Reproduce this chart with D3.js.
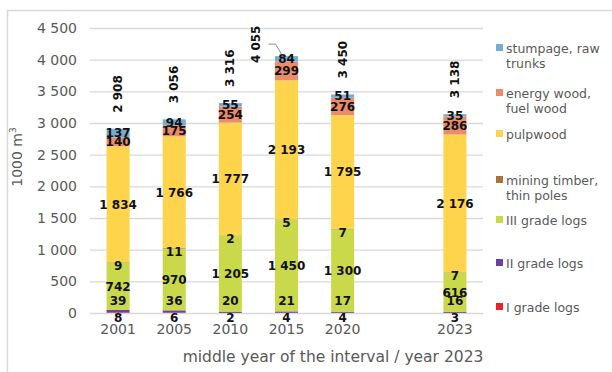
<!DOCTYPE html>
<html>
<head>
<meta charset="utf-8">
<script src="https://cdn.jsdelivr.net/npm/d3@7"></script>
<style>
  body { margin: 0; background: #fff; }
  text { font-family: "DejaVu Sans", sans-serif; }
</style>
</head>
<body>
<div id="chart"></div>
<script>
// categories ("" is the empty slot before 2023)
const years = ["2001", "2005", "2010", "2015", "2020", "", "2023"];

// series values, bottom to top
const gradeI = [8, 6, 2, 4, 4, null, 3];
const gradeII = [39, 36, 20, 21, 17, null, 16];
const gradeIII = [742, 970, 1205, 1450, 1300, null, 616];
const mining = [9, 11, 2, 5, 7, null, 7];
const pulpwood = [1834, 1766, 1777, 2193, 1795, null, 2176];
const energy = [140, 175, 254, 299, 276, null, 286];
const stumpage = [137, 94, 55, 84, 51, null, 35];
const totals = [2908, 3056, 3316, 4055, 3450, null, 3138];

const yTicks = [0, 500, 1000, 1500, 2000, 2500, 3000, 3500, 4000, 4500];

const series = [
    { key: "I", name: ["I grade logs"], values: gradeI, color: "#e8222b" },
    { key: "II", name: ["II grade logs"], values: gradeII, color: "#6b3fa3" },
    { key: "III", name: ["III grade logs"], values: gradeIII, color: "#c9d94a" },
    { key: "mining", name: ["mining timber,", "thin poles"], values: mining, color: "#a5733b" },
    { key: "pulp", name: ["pulpwood"], values: pulpwood, color: "#ffd44d" },
    { key: "energy", name: ["energy wood,", "fuel wood"], values: energy, color: "#e98c6c" },
    { key: "stump", name: ["stumpage, raw", "trunks"], values: stumpage, color: "#75add0" }
];

const fmt = v => d3.format(",")(v).replace(/,/g, " ");

const W = 612, H = 372;
const margin = { top: 28, right: 129, bottom: 59, left: 90 };
const width = W - margin.left - margin.right;
const height = H - margin.top - margin.bottom;

const root = d3.select("#chart").append("svg")
    .attr("width", W)
    .attr("height", H);

// outer frame
root.append("rect")
    .attr("x", 7.5).attr("y", 10.5)
    .attr("width", 640).attr("height", 400)
    .attr("fill", "none")
    .attr("stroke", "#d9d9d9")
    .attr("stroke-width", 1.5);

const svg = root.append("g")
    .attr("transform", `translate(${margin.left},${margin.top})`);

const x = d3.scaleBand()
    .domain(years.map((d, i) => i))
    .range([0, width])
    .paddingInner(0.59)
    .paddingOuter(0.295);

const y = d3.scaleLinear()
    .domain([0, 4500])
    .range([height, 0]);

// gridlines + y axis labels
svg.append("g")
    .selectAll("line")
    .data(yTicks)
    .join("line")
    .attr("x1", 0).attr("x2", width)
    .attr("y1", d => y(d) + 0.5).attr("y2", d => y(d) + 0.5)
    .attr("stroke", "#d9d9d9")
    .attr("stroke-width", 1.3);

svg.append("g")
    .selectAll("text")
    .data(yTicks)
    .join("text")
    .attr("x", -13)
    .attr("y", d => y(d))
    .attr("dy", "0.36em")
    .attr("text-anchor", "end")
    .attr("font-size", 14)
    .attr("fill", "#595959")
    .text(d => fmt(d));

// stacked bars
const rows = years.map((yr, i) => {
    const r = { i };
    series.forEach(s => r[s.key] = s.values[i] || 0);
    return r;
}).filter(r => years[r.i] !== "");

const stack = d3.stack().keys(series.map(s => s.key))(rows);

const barsG = svg.append("g");
const labelsG = svg.append("g");

stack.forEach((layer, li) => {
    const s = series[li];
    barsG.append("g")
        .selectAll("rect")
        .data(layer)
        .join("rect")
        .attr("x", d => x(d.data.i))
        .attr("width", x.bandwidth())
        .attr("y", d => y(d[1]))
        .attr("height", d => Math.max(y(d[0]) - y(d[1]), 0))
        .attr("fill", s.color);

    // data labels (drawn above all bars)
    labelsG.append("g")
        .selectAll("text")
        .data(layer)
        .join("text")
        .attr("x", d => x(d.data.i) + x.bandwidth() / 2)
        .attr("y", d => {
            if (s.key === "I") return y(0) + 5;
            if (s.key === "II") return y(0) - 12;
            if (s.key === "mining") return y(d[0]) + 3;
            return y((d[0] + d[1]) / 2);
        })
        .attr("dy", "0.36em")
        .attr("text-anchor", "middle")
        .attr("font-size", 12)
        .attr("font-weight", "bold")
        .attr("fill", "#111")
        .text(d => fmt(d.data[s.key]));
});

// totals, rotated
const topSum = rows.map(r => ({ i: r.i, total: totals[r.i], top: d3.sum(series, s => r[s.key]) }));
topSum.forEach(d => {
    const cx = x(d.i) + x.bandwidth() / 2;
    let lx = cx + 4, ly = y(d.top) - 16;
    const g = svg.append("g");
    if (d.total > 4000) {
        // no room above the bar: label sits left with a leader line
        lx = cx - 27;
        ly = y(d.top) + 7;
        g.append("path")
            .attr("d", `M${cx - 18},${y(d.top) - 12}H${cx - 11}L${cx - 5},${y(d.top) - 2}`)
            .attr("fill", "none")
            .attr("stroke", "#8c8c8c")
            .attr("stroke-width", 1);
    }
    g.append("text")
        .attr("transform", `translate(${lx},${ly}) rotate(-90)`)
        .attr("font-size", 12)
        .attr("font-weight", "bold")
        .attr("fill", "#111")
        .text(fmt(d.total));
});

// x axis labels
svg.append("g")
    .selectAll("text")
    .data(years.map((d, i) => ({ d, i })).filter(o => o.d !== ""))
    .join("text")
    .attr("x", o => x(o.i) + x.bandwidth() / 2)
    .attr("y", height + 21)
    .attr("text-anchor", "middle")
    .attr("font-size", 14)
    .attr("fill", "#595959")
    .text(o => o.d);

// axis titles
root.append("text")
    .attr("x", 333)
    .attr("y", 362)
    .attr("text-anchor", "middle")
    .attr("font-size", 15.5)
    .attr("fill", "#595959")
    .text("middle year of the interval / year 2023");

root.append("text")
    .attr("transform", "translate(22,157) rotate(-90)")
    .attr("text-anchor", "middle")
    .attr("font-size", 14)
    .attr("fill", "#595959")
    .html("1000 m<tspan dy='-6' font-size='9'>3</tspan>");

// legend
const legendY = [48, 93, 134, 180, 220, 263, 307];
const legend = root.append("g");
series.slice().reverse().forEach((s, k) => {
    const g = legend.append("g").attr("transform", `translate(496,${legendY[k]})`);
    g.append("rect")
        .attr("x", 0).attr("y", -4)
        .attr("width", 7).attr("height", 7)
        .attr("fill", s.color);
    g.selectAll("text")
        .data(s.name)
        .join("text")
        .attr("x", 10)
        .attr("y", (d, j) => j * 15)
        .attr("dy", "0.36em")
        .attr("font-size", 12.5)
        .attr("fill", "#595959")
        .text(d => d);
});
</script>
</body>
</html>
